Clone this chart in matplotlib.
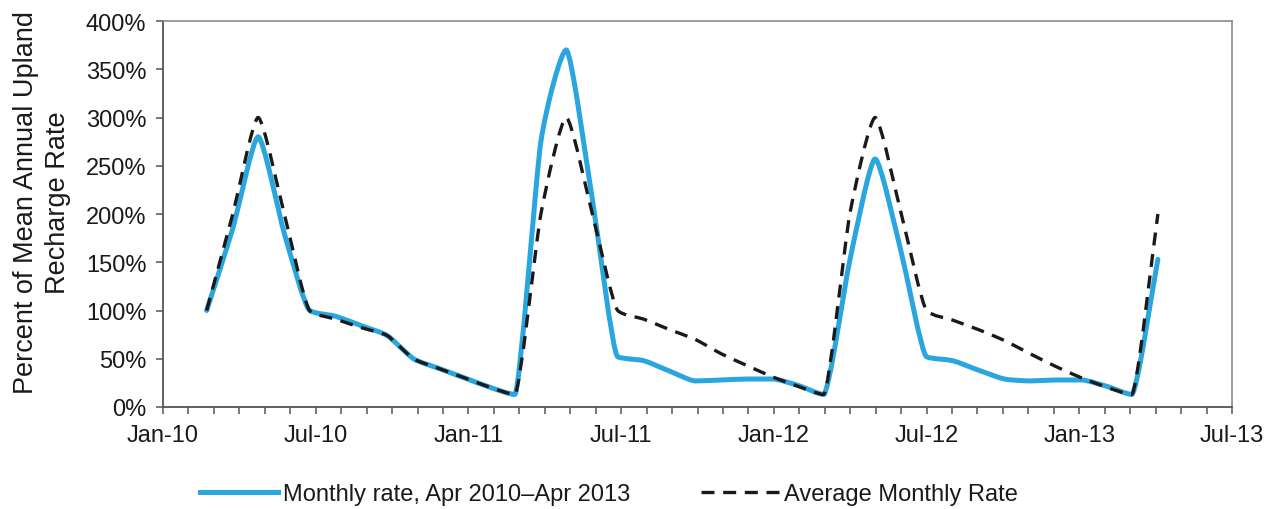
import numpy as np
import pandas as pd
import matplotlib
matplotlib.use("Agg")
import matplotlib.pyplot as plt
import matplotlib.dates as mdates
from matplotlib.ticker import FixedLocator, FixedFormatter, FuncFormatter
from matplotlib.lines import Line2D
from matplotlib.path import Path
from matplotlib.patches import PathPatch

plt.rcParams['font.family'] = ['Liberation Sans', 'DejaVu Sans']

# ---- data ----
months = pd.date_range('2010-03-01', '2013-04-01', freq='MS')
monthly_rate = [100, 185, 280, 180, 100, 94, 84, 74, 50, 40, 30, 20, 13,
                275, 370, 215, 52, 48, 37, 27, 28, 29, 29, 22, 13,
                152, 257, 160, 52, 48, 38, 29, 27, 28, 28, 21, 13,
                153]
average_rate = [100, 200, 300, 200, 100, 91, 82, 74, 50, 40, 30, 20, 13,
                200, 300, 200, 100, 91, 80, 70, 55, 43, 31, 21, 13,
                200, 300, 200, 100, 90, 80, 69, 55, 42, 30, 20, 13,
                200]
tick_labels = ['Jan-10', 'Jul-10', 'Jan-11', 'Jul-11', 'Jan-12', 'Jul-12', 'Jan-13', 'Jul-13']
y_ticks = [0, 50, 100, 150, 200, 250, 300, 350, 400]
series_labels = ['Monthly rate, Apr 2010\u2013Apr 2013', 'Average Monthly Rate']

blue = '#2AA6DE'
ink = '#1a1a1a'


def smooth_path(xv, yv, arm=0.6):
    """Bezier path through the points: Catmull-Rom tangents limited so the
    curve never overshoots (extrema stay at the data points)."""
    xv = np.asarray(xv, float)
    yv = np.asarray(yv, float)
    h = np.diff(xv)
    delta = np.diff(yv) / h
    n = len(xv)
    d = np.zeros(n)
    d[0], d[-1] = delta[0], delta[-1]
    for i in range(1, n - 1):
        if delta[i - 1] * delta[i] <= 0:
            d[i] = 0.0
        else:
            t = (yv[i + 1] - yv[i - 1]) / (xv[i + 1] - xv[i - 1])
            lim = 3 * min(abs(delta[i - 1]), abs(delta[i]))
            d[i] = np.sign(t) * min(abs(t), lim)
    verts = [(xv[0], yv[0])]
    codes = [Path.MOVETO]
    for i in range(n - 1):
        a = arm * h[i] / 3
        verts += [(xv[i] + a, yv[i] + d[i] * a),
                  (xv[i + 1] - a, yv[i + 1] - d[i + 1] * a),
                  (xv[i + 1], yv[i + 1])]
        codes += [Path.CURVE4] * 3
    return Path(verts, codes)


fig = plt.figure(figsize=(12.71, 5.10), dpi=100)
ax = fig.add_axes([163/1271, 1-408/510, (1232-163)/1271, (408-22)/510])

x = mdates.date2num(months.to_pydatetime())
ax.add_patch(PathPatch(smooth_path(x, monthly_rate), fill=False, edgecolor=blue,
                       lw=3.6, joinstyle='round', capstyle='round', zorder=2))
ax.add_patch(PathPatch(smooth_path(x, average_rate), fill=False, edgecolor=ink,
                       lw=2.4, linestyle=(0, (3.9, 2.6)), zorder=3))

x0 = mdates.date2num(pd.Timestamp('2010-01-01').to_pydatetime())
xmin, xmax = x0 + 7.3, x0 + 1273.8
ax.set_xlim(xmin, xmax)
ticks = np.linspace(xmin, xmax, 43)
ax.xaxis.set_major_locator(FixedLocator(ticks))
labels = [tick_labels[k // 6] if k % 6 == 0 else '' for k in range(43)]
ax.xaxis.set_major_formatter(FixedFormatter(labels))

ax.set_ylim(0, 400)
ax.yaxis.set_major_locator(FixedLocator(y_ticks))
ax.yaxis.set_major_formatter(FuncFormatter(lambda v, p: f'{int(v)}%'))

ax.tick_params(axis='both', direction='out', length=5, width=1.1, color='#555555',
               labelsize=17, labelcolor=ink)
ax.tick_params(axis='x', pad=7)
ax.tick_params(axis='y', pad=7)

for s in ['left', 'bottom']:
    ax.spines[s].set_color('#555555')
    ax.spines[s].set_linewidth(1.3)
for s in ['top', 'right']:
    ax.spines[s].set_color('#8a8a8a')
    ax.spines[s].set_linewidth(1.2)

fig.text(42/1271, 1-203/510, 'Percent of Mean Annual Upland\nRecharge Rate',
         rotation=90, ha='center', va='center', multialignment='center',
         fontsize=19.5, color=ink, linespacing=1.3)

handles = [Line2D([], [], color=blue, lw=3.6),
           Line2D([], [], color=ink, lw=2.4, dashes=(3.9, 2.6))]
fig.legend(handles, series_labels, loc='center', bbox_to_anchor=(609/1271, 1-495/510),
           ncol=2, frameon=False, handlelength=3.3, columnspacing=3.0,
           handletextpad=0.2, fontsize=17, labelcolor=ink)

fig.savefig('out.png', dpi=100, facecolor='white')
